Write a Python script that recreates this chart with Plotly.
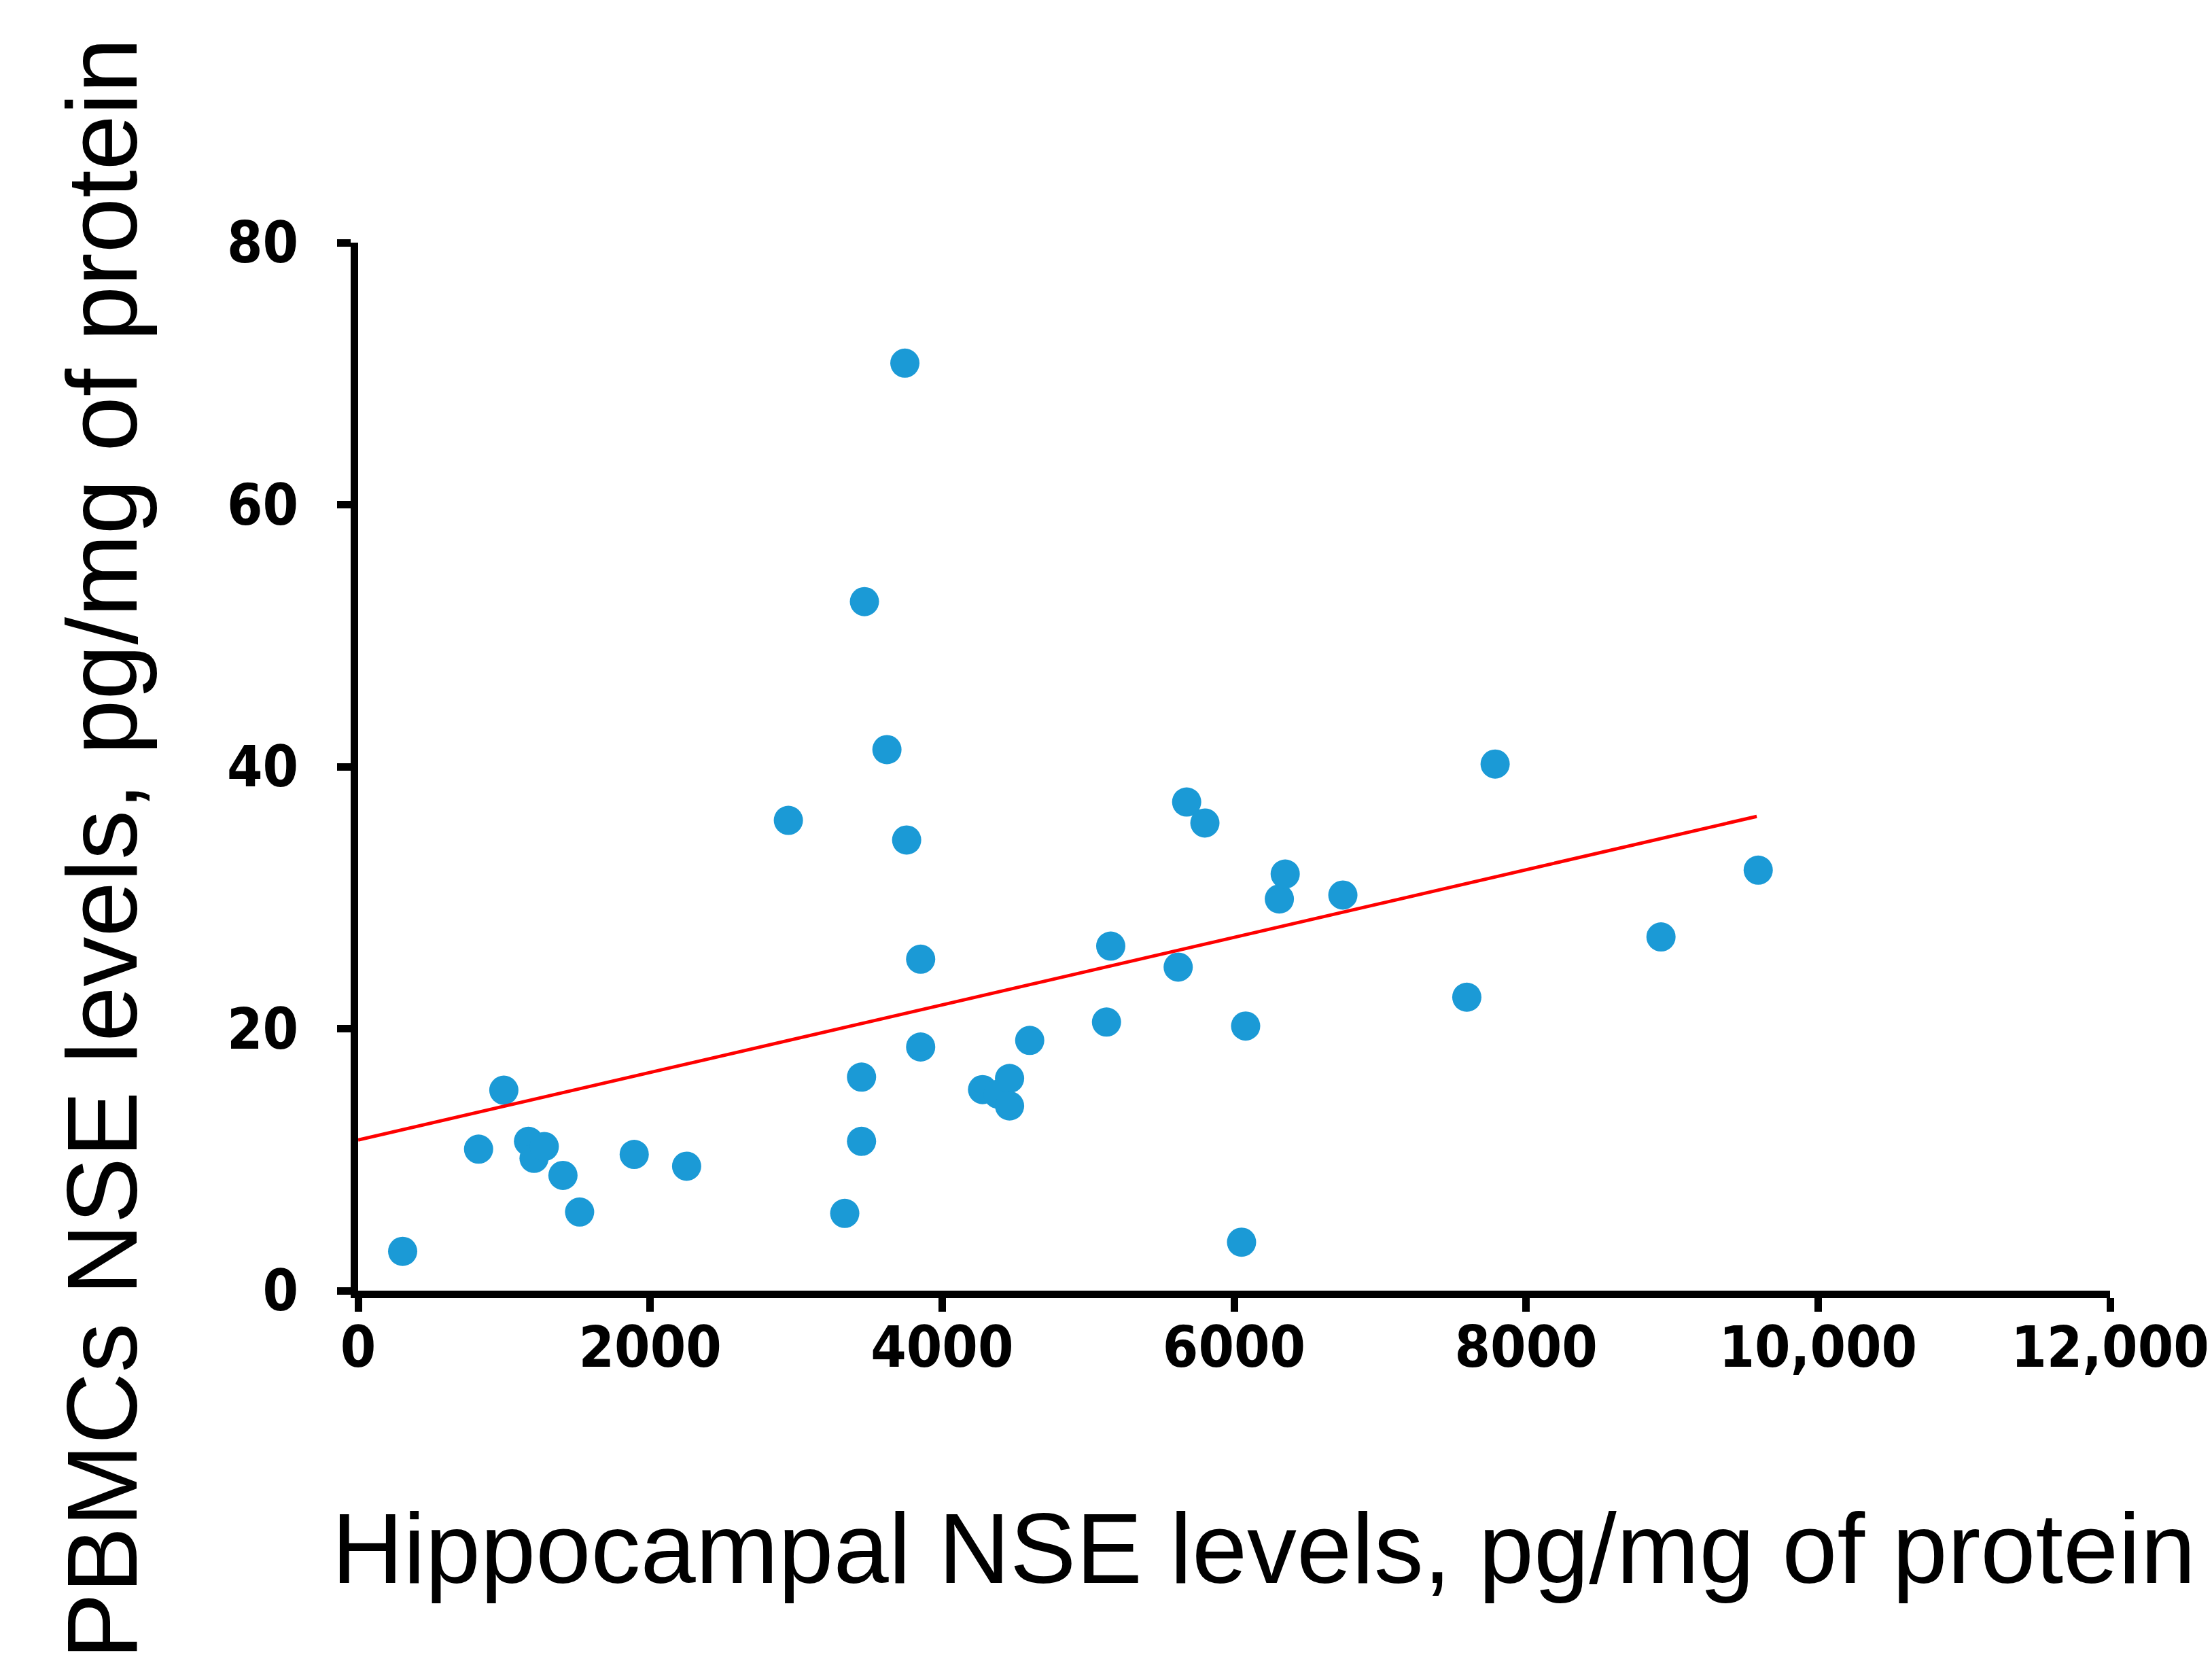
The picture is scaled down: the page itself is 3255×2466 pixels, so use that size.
import plotly.graph_objects as go

# Data
hippocampal_nse = [305, 825, 998, 1167, 1205, 1275, 1403, 1517, 1891, 2250,
                   2947, 3333, 3448, 3448, 3468, 3622, 3745, 3757, 3853, 3853,
                   4277, 4383, 4462, 4462, 4600, 5126, 5155, 5617, 5675, 5800,
                   6051, 6079, 6310, 6350, 6745, 7594, 7788, 8924, 9590]
pbmc_nse = [3.0, 10.8, 15.3, 11.4, 10.1, 11.0, 8.8, 6.0, 10.4, 9.5,
            35.9, 5.9, 16.3, 11.4, 52.6, 41.3, 70.8, 34.4, 25.3, 18.6,
            15.35, 15.0, 16.2, 14.1, 19.1, 20.5, 26.3, 24.7, 37.3, 35.7,
            3.7, 20.2, 29.9, 31.8, 30.2, 22.4, 40.2, 27.0, 32.1]

fit_x = [0, 9580]
fit_y = [11.5, 36.2]

x_tick_vals = [0, 2000, 4000, 6000, 8000, 10000, 12000]
x_tick_text = ["0", "2000", "4000", "6000", "8000", "10,000", "12,000"]
y_tick_vals = [0, 20, 40, 60, 80]
y_tick_text = ["0", "20", "40", "60", "80"]

x_title = "Hippocampal NSE levels, pg/mg of protein"
y_title = "PBMCs NSE levels, pg/mg of protein"

W, H = 3255, 2466
L, R, T, B = 519, 149, 349, 575

fig = go.Figure()
fig.add_trace(go.Scatter(
    x=hippocampal_nse, y=pbmc_nse, mode="markers",
    marker=dict(size=43, color="rgb(27,154,214)", line=dict(width=0)),
    showlegend=False, cliponaxis=False,
))
fig.add_trace(go.Scatter(
    x=fit_x, y=fit_y, mode="lines",
    line=dict(color="rgb(255,0,0)", width=5),
    showlegend=False,
))

tick_font = dict(family="Noto Sans Condensed, DejaVu Sans Condensed, sans-serif",
                 size=84, color="black", weight="bold")

fig.update_xaxes(
    range=[0, 12000], tickvals=x_tick_vals, ticktext=x_tick_text,
    showline=True, linewidth=11, linecolor="black",
    ticks="outside", ticklen=20, tickwidth=11, tickcolor="black",
    showgrid=False, zeroline=False, tickfont=tick_font,
    ticklabelstandoff=-20, ticklabeloverflow="allow",
)
fig.update_yaxes(
    range=[0, 80], tickvals=y_tick_vals, ticktext=y_tick_text,
    showline=True, linewidth=11, linecolor="black",
    ticks="outside", ticklen=20, tickwidth=11, tickcolor="black",
    showgrid=False, zeroline=False, tickfont=tick_font, ticklabelstandoff=40,
    ticklabeloverflow="allow",
)

pw, ph = W - L - R, H - T - B
def px_to_paper_x(px):
    return (px - L) / pw
def px_to_paper_y(py):
    return (H - B - py) / ph

title_font = dict(family="Liberation Sans, Arial, sans-serif", size=146, color="black")
fig.add_annotation(
    text=x_title, xref="paper", yref="paper",
    x=px_to_paper_x(1856), y=px_to_paper_y(2270),
    xanchor="center", yanchor="middle", showarrow=False, font=title_font,
)
fig.add_annotation(
    text=y_title, xref="paper", yref="paper",
    x=px_to_paper_x(141), y=px_to_paper_y(1240),
    xanchor="center", yanchor="middle", showarrow=False, font=title_font,
    textangle=-90,
)

fig.update_layout(
    width=W, height=H,
    margin=dict(l=L, r=R, t=T, b=B, pad=0),
    plot_bgcolor="white", paper_bgcolor="white",
)

fig.write_html("out.html")
